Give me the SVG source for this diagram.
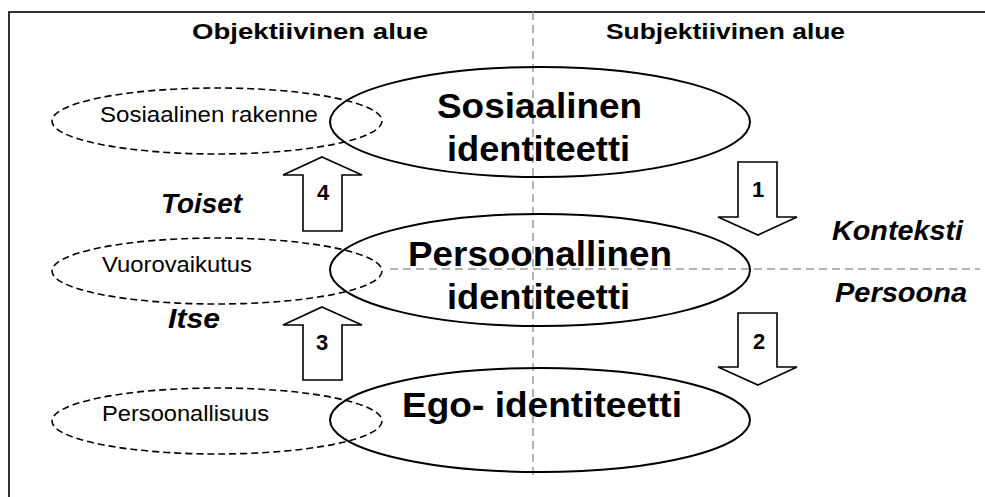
<svg xmlns="http://www.w3.org/2000/svg" width="985" height="497" viewBox="0 0 985 497">
<style>
.frame{fill:none;stroke:#000;stroke-width:1.6}
.big{fill:none;stroke:#000;stroke-width:2}
.dash{fill:none;stroke:#000;stroke-width:1.6;stroke-dasharray:7 4}
.guide{fill:none;stroke:#9a9a9a;stroke-width:1.5;stroke-dasharray:8 5}
.arrow{fill:#fff;stroke:#000;stroke-width:1.6;stroke-linejoin:miter}
text{font-family:"Liberation Sans",Arial,sans-serif;fill:#000}
.hdr{font-size:22px;font-weight:bold}
.sm{font-size:22.5px}
.bg{font-size:35.5px;font-weight:bold}
.it{font-size:27px;font-weight:bold;font-style:italic}
.num{font-size:22px;font-weight:bold;text-anchor:middle}
</style>
<rect class="frame" x="9" y="12" width="1000" height="500"/>
<g id="guides">
<line class="guide" x1="533" y1="12" x2="533" y2="477"/>
<line class="guide" x1="390" y1="269" x2="980" y2="269"/>
</g>
<g id="headers">
<text class="hdr" x="192" y="39" textLength="236" lengthAdjust="spacingAndGlyphs">Objektiivinen alue</text>
<text class="hdr" x="606" y="39" textLength="239" lengthAdjust="spacingAndGlyphs">Subjektiivinen alue</text>
</g>
<g id="sosiaalinen-rakenne">
<ellipse class="dash" cx="217" cy="121" rx="165" ry="33"/>
<text class="sm" x="100" y="122" textLength="218" lengthAdjust="spacingAndGlyphs">Sosiaalinen rakenne</text>
</g>
<g id="vuorovaikutus">
<ellipse class="dash" cx="217" cy="271" rx="165" ry="33"/>
<text class="sm" x="102" y="272" textLength="150" lengthAdjust="spacingAndGlyphs">Vuorovaikutus</text>
</g>
<g id="persoonallisuus">
<ellipse class="dash" cx="217" cy="421" rx="165" ry="33"/>
<text class="sm" x="102" y="421" textLength="167" lengthAdjust="spacingAndGlyphs">Persoonallisuus</text>
</g>
<g id="sosiaalinen-identiteetti">
<ellipse class="big" cx="540" cy="122" rx="210" ry="55"/>
<text class="bg" x="437" y="118" textLength="205" lengthAdjust="spacingAndGlyphs">Sosiaalinen</text>
<text class="bg" x="447" y="161" textLength="183" lengthAdjust="spacingAndGlyphs">identiteetti</text>
</g>
<g id="persoonallinen-identiteetti">
<ellipse class="big" cx="540" cy="270" rx="210" ry="56"/>
<text class="bg" x="408" y="266" textLength="264" lengthAdjust="spacingAndGlyphs">Persoonallinen</text>
<text class="bg" x="447" y="309" textLength="183" lengthAdjust="spacingAndGlyphs">identiteetti</text>
</g>
<g id="ego-identiteetti">
<ellipse class="big" cx="540" cy="420" rx="210" ry="52"/>
<text class="bg" x="402" y="417" textLength="280" lengthAdjust="spacingAndGlyphs">Ego- identiteetti</text>
</g>
<g id="labels">
<text class="it" x="161" y="213" textLength="81" lengthAdjust="spacingAndGlyphs">Toiset</text>
<text class="it" x="168" y="328" textLength="52" lengthAdjust="spacingAndGlyphs">Itse</text>
<text class="it" x="832" y="240" textLength="131" lengthAdjust="spacingAndGlyphs">Konteksti</text>
<text class="it" x="835" y="302" textLength="132" lengthAdjust="spacingAndGlyphs">Persoona</text>
</g>
<g id="connectors">
<g id="arrow-1">
<polygon class="arrow" points="738,162 777,162 777,217 797,217 758,235 718,217 738,217"/>
<text class="num" x="758" y="197">1</text>
</g>
<g id="arrow-2">
<polygon class="arrow" points="738,313 777,313 777,367 797,367 758,385 718,367 738,367"/>
<text class="num" x="759" y="349">2</text>
</g>
<g id="arrow-3">
<polygon class="arrow" points="322,307 362,325 342,325 342,380 303,380 303,325 283,325"/>
<text class="num" x="322" y="350">3</text>
</g>
<g id="arrow-4">
<polygon class="arrow" points="322,157 362,175 342,175 342,231 303,231 303,175 283,175"/>
<text class="num" x="323" y="200">4</text>
</g>
</g>
</svg>
